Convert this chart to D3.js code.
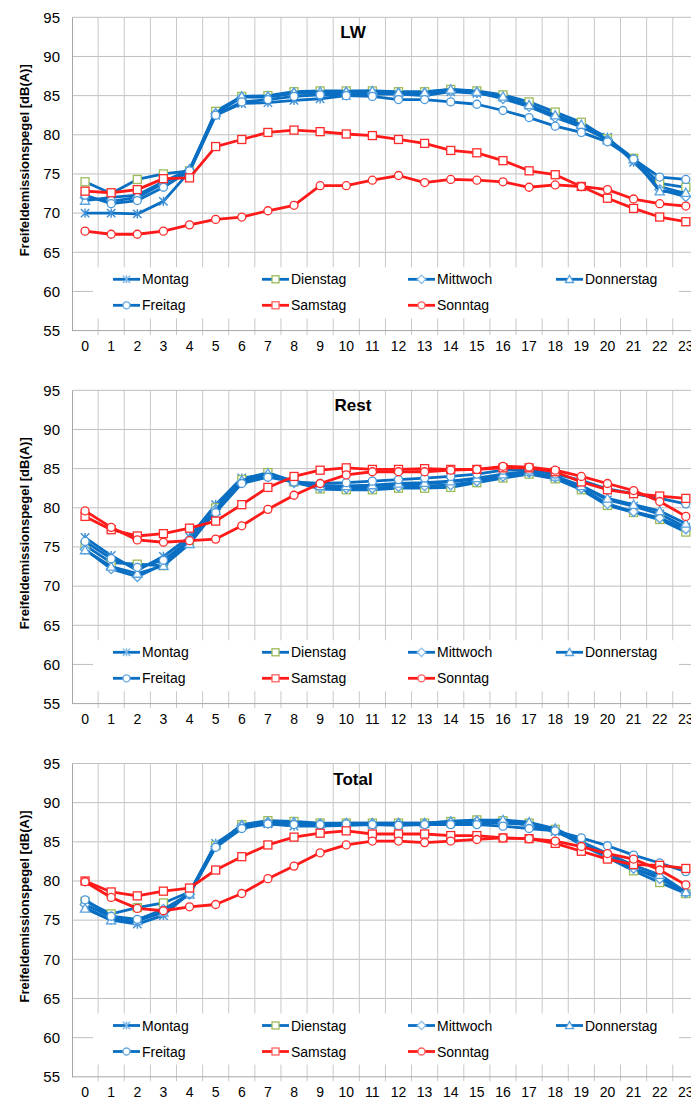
<!DOCTYPE html>
<html><head><meta charset="utf-8">
<script src="https://cdn.jsdelivr.net/npm/d3@7/dist/d3.min.js"></script>
<style>
html,body{margin:0;padding:0;background:#fff;overflow:hidden}
svg{display:block;font-family:"Liberation Sans",Arial,sans-serif}
</style></head><body>
<svg id="c" width="691" height="1097"></svg>
<script>
const hours = d3.range(0,24);
const yTicks = [55,60,65,70,75,80,85,90,95];
const days = ["Montag","Dienstag","Mittwoch","Donnerstag","Freitag","Samstag","Sonntag"];
const panelTitles = ["LW","Rest","Total"];
const yAxisTitle = "Freifeldemissionspegel [dB(A)]";

// LW
const lwMontag     = [70.0,70.0,69.9,71.5,75.3,82.5,84.0,84.1,84.4,84.6,85.0,85.2,85.2,85.0,85.5,85.3,84.8,83.8,82.5,81.2,79.7,76.5,73.4,72.5];
const lwDienstag   = [74.0,72.5,74.3,75.0,75.4,83.0,84.9,85.0,85.5,85.6,85.6,85.6,85.5,85.5,85.8,85.6,85.1,84.2,82.9,81.6,79.5,77.0,73.8,73.3];
const lwMittwoch   = [72.0,71.5,72.0,73.8,75.5,82.7,84.8,84.8,85.3,85.3,85.4,85.4,85.3,85.3,85.6,85.4,84.6,83.6,82.2,81.0,79.4,76.8,73.0,72.1];
const lwDonnerstag = [71.6,72.0,72.3,74.0,75.6,82.8,84.9,84.9,85.4,85.5,85.5,85.6,85.4,85.4,85.8,85.5,84.9,83.8,82.5,81.3,79.3,76.9,72.8,72.6];
const lwFreitag    = [72.3,71.2,71.6,73.3,75.4,82.5,84.2,84.5,84.9,85.1,85.0,84.9,84.5,84.5,84.2,83.9,83.1,82.2,81.1,80.3,79.1,76.9,74.6,74.3];
const lwSamstag    = [72.8,72.6,73.0,74.4,74.5,78.5,79.4,80.3,80.6,80.4,80.1,79.9,79.4,78.9,78.0,77.7,76.7,75.4,74.9,73.4,71.9,70.6,69.5,68.9];
const lwSonntag    = [67.7,67.3,67.3,67.7,68.5,69.2,69.5,70.3,71.0,73.5,73.5,74.2,74.8,73.9,74.3,74.2,74.0,73.3,73.6,73.4,73.0,71.8,71.2,70.9];

// Rest
const reMontag     = [76.2,73.9,72.0,73.8,76.3,80.4,83.8,84.3,83.3,82.8,82.7,82.8,83.0,83.1,83.3,83.7,84.2,84.6,84.0,82.8,81.0,80.2,79.2,77.5];
const reDienstag   = [75.2,73.0,72.8,72.6,75.6,80.0,83.6,84.5,83.3,82.4,82.3,82.3,82.5,82.5,82.6,83.2,83.8,84.3,83.7,82.3,80.3,79.4,78.5,76.9];
const reMittwoch   = [74.7,72.2,71.2,72.8,75.8,79.8,83.3,84.2,83.2,82.6,82.5,82.5,82.7,82.8,82.9,83.4,84.0,84.5,83.9,82.5,80.5,79.5,78.7,77.3];
const reDonnerstag = [74.6,72.5,71.6,72.6,75.4,79.6,83.5,84.4,83.4,82.8,82.8,82.9,83.1,83.2,83.4,83.8,84.3,84.6,84.0,82.8,81.2,80.4,79.6,78.0];
const reFreitag    = [75.7,73.5,72.4,73.3,75.9,79.4,83.1,83.9,83.3,83.1,83.2,83.4,83.6,83.8,84.0,84.3,84.8,84.8,84.3,83.5,82.4,81.8,81.2,80.5];
const reSamstag    = [78.9,77.2,76.4,76.7,77.4,78.3,80.4,82.6,84.0,84.8,85.1,84.9,84.9,85.0,84.9,84.9,85.1,85.1,84.6,83.3,82.3,81.8,81.5,81.2];
const reSonntag    = [79.6,77.5,75.9,75.6,75.8,76.0,77.7,79.8,81.6,83.1,84.2,84.6,84.6,84.6,84.8,84.9,85.3,85.2,84.8,84.0,83.1,82.2,80.8,78.9];

// Total
const toMontag     = [76.6,75.0,74.5,75.6,78.5,84.8,87.0,87.3,87.0,87.0,87.1,87.2,87.2,87.3,87.4,87.5,87.4,87.2,86.3,84.9,83.2,81.6,80.5,78.4];
const toDienstag   = [77.4,75.8,76.6,77.2,78.6,84.5,87.2,87.7,87.6,87.4,87.4,87.4,87.4,87.4,87.6,87.8,87.7,87.4,86.6,84.6,83.0,81.3,79.8,78.4];
const toMittwoch   = [77.0,75.4,75.0,76.4,78.3,84.4,87.1,87.5,87.4,87.3,87.3,87.3,87.3,87.3,87.5,87.6,87.5,87.2,86.4,84.8,83.3,81.6,80.3,78.5];
const toDonnerstag = [76.5,75.0,74.9,76.0,78.3,84.6,87.1,87.4,87.5,87.3,87.4,87.4,87.4,87.4,87.6,87.7,87.8,87.5,86.7,85.0,83.5,82.0,80.8,78.6];
const toFreitag    = [77.6,75.5,75.1,76.2,78.4,84.3,86.7,87.3,87.2,87.2,87.3,87.2,87.1,87.2,87.2,87.2,87.0,86.7,86.4,85.5,84.5,83.3,82.3,81.2];
const toSamstag    = [80.0,78.6,78.1,78.7,79.1,81.4,83.1,84.6,85.6,86.1,86.4,86.0,86.0,86.0,85.8,85.8,85.5,85.4,84.8,83.8,82.8,82.1,82.0,81.6];
const toSonntag    = [79.9,77.9,76.5,76.2,76.7,77.0,78.4,80.3,81.9,83.6,84.6,85.1,85.1,84.9,85.1,85.3,85.5,85.4,85.1,84.4,83.5,82.8,81.4,79.5];

const panelSeries = [
  [lwMontag,lwDienstag,lwMittwoch,lwDonnerstag,lwFreitag,lwSamstag,lwSonntag],
  [reMontag,reDienstag,reMittwoch,reDonnerstag,reFreitag,reSamstag,reSonntag],
  [toMontag,toDienstag,toMittwoch,toDonnerstag,toFreitag,toSamstag,toSonntag]
];

// styles
const BLUE = "#0a6fc2", RED = "#ff1a1a";
const styles = [
  {line:BLUE, marker:"star",     mstroke:"#3d8fd6", lstroke:"#7fb6e6"},
  {line:BLUE, marker:"square",   mstroke:"#9bbb59", lstroke:"#9bbb59"},
  {line:BLUE, marker:"diamond",  mstroke:"#5aa2de", lstroke:"#8cc0ea"},
  {line:BLUE, marker:"triangle", mstroke:"#5aa2de", lstroke:"#5aa2de"},
  {line:BLUE, marker:"circle",   mstroke:"#4a98da", lstroke:"#6aaae0"},
  {line:RED,  marker:"square",   mstroke:"#ff2a2a", lstroke:"#ff6060"},
  {line:RED,  marker:"circle",   mstroke:"#ff2a2a", lstroke:"#ff6060"}
];

const svg = d3.select("#c");
const plotLeft = 72, plotRight = 72 + 24*26.12;
const panelTops = [17.3, 390.3, 763.5];
const plotH = 313.3;

const x = d3.scaleBand().domain(hours).range([plotLeft, plotRight]).paddingInner(0).paddingOuter(0);
const bw = x.bandwidth();
const cx = h => x(h) + bw/2;

function drawMarker(g, type, px, py, size, stroke){
  const s = size/2;
  if(type==="square"){
    g.append("rect").attr("x",px-s).attr("y",py-s).attr("width",size).attr("height",size)
     .attr("fill","#fff").attr("stroke",stroke).attr("stroke-width",1.3);
  } else if(type==="circle"){
    g.append("circle").attr("cx",px).attr("cy",py).attr("r",s)
     .attr("fill","#fff").attr("stroke",stroke).attr("stroke-width",1.3);
  } else if(type==="diamond"){
    const d = s*1.2;
    g.append("path").attr("d",`M${px},${py-d}L${px+d},${py}L${px},${py+d}L${px-d},${py}Z`)
     .attr("fill","#fff").attr("stroke",stroke).attr("stroke-width",1.3);
  } else if(type==="triangle"){
    const d = s*1.15;
    g.append("path").attr("d",`M${px},${py-d}L${px+d},${py+d*0.8}L${px-d},${py+d*0.8}Z`)
     .attr("fill","#fff").attr("stroke",stroke).attr("stroke-width",1.3);
  } else if(type==="star"){
    const d = s*1.05;
    g.append("path").attr("d",`M${px-d},${py-d}L${px+d},${py+d}M${px-d},${py+d}L${px+d},${py-d}M${px},${py-d*1.1}L${px},${py+d*1.1}`)
     .attr("fill","none").attr("stroke",stroke).attr("stroke-width",1.4);
  }
}

panelTitles.forEach((title, pi) => {
  const top = panelTops[pi];
  const bottom = top + plotH;
  const y = d3.scaleLinear().domain([55,95]).range([bottom, top]);
  const g = svg.append("g");

  // horizontal gridlines
  g.selectAll(".hg").data(yTicks.filter(t=>t>55)).enter().append("line")
    .attr("x1",plotLeft).attr("x2",plotRight)
    .attr("y1",d=>y(d)).attr("y2",d=>y(d))
    .attr("stroke","#bfbfbf").attr("stroke-width",1);
  // vertical gridlines at category boundaries (+ small ticks below axis)
  g.selectAll(".vg").data(d3.range(1,25)).enter().append("line")
    .attr("x1",i=>plotLeft+i*bw).attr("x2",i=>plotLeft+i*bw)
    .attr("y1",top).attr("y2",bottom+4.5)
    .attr("stroke","#c8c8c8").attr("stroke-width",1);
  // bottom axis line
  g.append("line").attr("x1",plotLeft).attr("x2",plotRight).attr("y1",bottom).attr("y2",bottom)
    .attr("stroke","#a6a6a6").attr("stroke-width",1);
  // left axis
  const yAxis = d3.axisLeft(y).tickValues(yTicks).tickSize(0).tickPadding(12);
  const ya = g.append("g").attr("transform",`translate(${plotLeft},0)`).call(yAxis);
  ya.select(".domain").attr("stroke","#a6a6a6");
  ya.selectAll("text").attr("font-size","15px").attr("fill","#000")
    .attr("font-family","'Liberation Sans',Arial,sans-serif");

  // x axis labels
  const xAxis = d3.axisBottom(x).tickSize(0).tickPadding(10);
  const xa = g.append("g").attr("transform",`translate(0,${bottom})`).call(xAxis);
  xa.select(".domain").remove();
  xa.selectAll("text").attr("font-size","14px").attr("fill","#000")
    .attr("font-family","'Liberation Sans',Arial,sans-serif");

  // legend background (covers grid)
  const legTop = top + 250, legBot = top + 301;
  g.append("rect").attr("x",93).attr("y",legTop).attr("width",679-93).attr("height",legBot-legTop).attr("fill","#fff");

  // series
  const line = d3.line().x((d,i)=>cx(hours[i])).y(d=>y(d));
  panelSeries[pi].forEach((vals, si) => {
    const st = styles[si];
    const sg = g.append("g");
    sg.append("path").attr("d",line(vals)).attr("fill","none")
      .attr("stroke",st.line).attr("stroke-width",2.8).attr("stroke-linejoin","round");
    vals.forEach((v,i)=>drawMarker(sg, st.marker, cx(hours[i]), y(v), 8, st.mstroke));
  });

  // legend entries
  const colX = [113, 262, 408, 556];
  const rowY = [top+262, top+288];
  days.forEach((d, di) => {
    const r = di < 4 ? 0 : 1;
    const c = di < 4 ? di : di-4;
    const lx = colX[c], ly = rowY[r];
    const st = styles[di];
    const lg = g.append("g");
    lg.append("line").attr("x1",lx).attr("x2",lx+27).attr("y1",ly).attr("y2",ly)
      .attr("stroke",st.line).attr("stroke-width",2.8);
    drawMarker(lg, st.marker, lx+13.5, ly, 7, st.lstroke);
    lg.append("text").attr("x",lx+29).attr("y",ly).attr("dy","0.36em")
      .attr("font-size","14px").attr("fill","#000").text(d);
  });

  // title
  g.append("text").attr("x",353).attr("y",top+21).attr("text-anchor","middle")
    .attr("font-size","17px").attr("font-weight","bold").attr("fill","#000").text(title);

  // y axis title
  g.append("text").attr("transform",`translate(24.5,${top+143}) rotate(-90)`)
    .attr("text-anchor","middle").attr("dy","0.35em")
    .attr("font-size","13px").attr("font-weight","bold").attr("fill","#000").text(yAxisTitle);
});
</script>
</body></html>
